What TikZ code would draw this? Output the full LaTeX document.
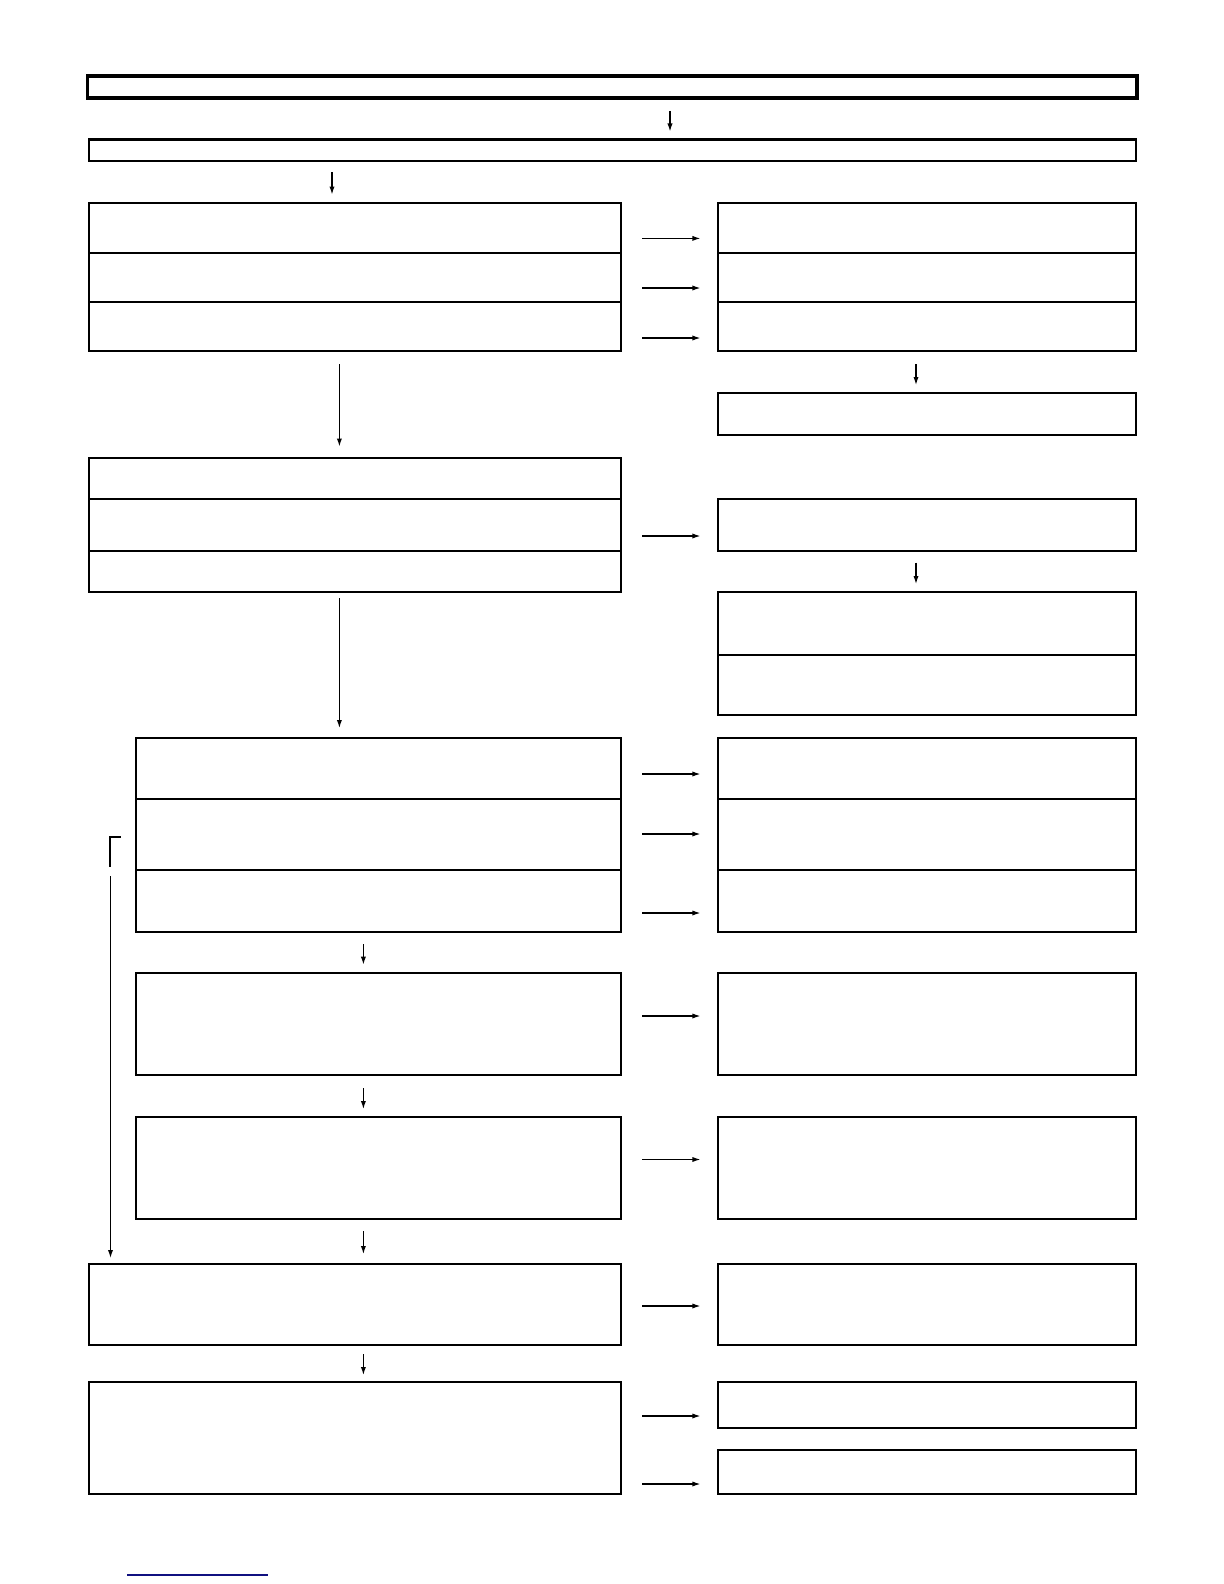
\documentclass[tikz,border=0pt]{standalone}
\usepackage{tikz}
\usetikzlibrary{fit,arrows.meta}
\definecolor{marine}{HTML}{101080}

\begin{document}
\begin{tikzpicture}[x=0.5pt,y=-0.5pt,
  boite/.style={draw,line width=1pt,inner sep=0pt,outer sep=0pt},
  fleche/.style={-{Latex[length=4pt,width=2.6pt]},line width=0.6pt},
  droite/.style={fleche,shorten <=10.6pt,shorten >=8.8pt},
  bas/.style={fleche,shorten <=6pt,shorten >=4pt}]
  \useasboundingbox (0,0) rectangle (1224,1584);

  % en-tete
  \node[
    boite,
    line width=1.75pt,
    fit={(87.7,75.8) (1137,97.9)}] (titre) {};
  \node[boite,fit={(88.5,139.5) (1136,160.8)}] (bande) {};

  % premier bloc
  \node[boite,fit={(88.5,202.5) (621,252.5)}] (l1) {};
  \node[boite,fit={(88.5,252.5) (621,302)}] (l2) {};
  \node[boite,fit={(88.5,302) (621,351)}] (l3) {};
  \node[boite,fit={(718,202.5) (1136,252.5)}] (r1) {};
  \node[boite,fit={(718,252.5) (1136,302)}] (r2) {};
  \node[boite,fit={(718,302) (1136,351)}] (r3) {};
  \node[boite,fit={(718,393) (1136,435)}] (r4) {};

  % deuxieme bloc
  \node[boite,fit={(88.5,457.5) (621,499)}] (l4) {};
  \node[boite,fit={(88.5,499) (621,550.5)}] (l5) {};
  \node[boite,fit={(88.5,550.5) (621,592)}] (l6) {};
  \node[boite,fit={(718,499) (1136,550.5)}] (r5) {};
  \node[boite,fit={(718,592) (1136,654.5)}] (r6) {};
  \node[boite,fit={(718,654.5) (1136,715)}] (r7) {};

  % troisieme bloc
  \node[boite,fit={(135.5,738) (621,799)}] (l7) {};
  \node[boite,fit={(135.5,799) (621,870)}] (l8) {};
  \node[boite,fit={(135.5,870) (621,932)}] (l9) {};
  \node[boite,fit={(718,738) (1136,799)}] (r8) {};
  \node[boite,fit={(718,799) (1136,870)}] (r9) {};
  \node[boite,fit={(718,870) (1136,932)}] (r10) {};
  \node[boite,fit={(135.5,972.6) (621,1074.6)}] (l10) {};
  \node[boite,fit={(718,972.6) (1136,1074.6)}] (r11) {};
  \node[boite,fit={(135.5,1117) (621,1219)}] (l11) {};
  \node[boite,fit={(718,1117) (1136,1219)}] (r12) {};

  % dernier bloc
  \node[boite,fit={(88.5,1264) (621,1345)}] (l12) {};
  \node[boite,fit={(718,1264) (1136,1345)}] (r13) {};
  \node[boite,fit={(88.5,1382) (621,1494)}] (l13) {};
  \node[boite,fit={(718,1382) (1136,1428)}] (r14) {};
  \node[boite,fit={(718,1450) (1136,1494)}] (r15) {};

  % fleches vers le bas
  \draw[bas,shorten <=6.5pt] (titre.south -| 670,0) -- (bande.north -| 670,0);
  \draw[bas,shorten <=5.7pt] (bande.south -| 332,0) -- (l1.north -| 332,0);
  \draw[bas,shorten <=6.5pt] (r3.south -| 916,0) -- (r4.north -| 916,0);
  \draw[bas,shorten <=6.5pt,shorten >=5.5pt] (l3.south -| 339.4,0) -- (l4.north -| 339.4,0);
  \draw[bas] (r5.south -| 916,0) -- (r6.north -| 916,0);
  \draw[bas,shorten <=3pt,shorten >=5pt] (l6.south -| 339.4,0) -- (l7.north -| 339.4,0);
  \draw[bas] (l9.south -| 363.4,0) -- (l10.north -| 363.4,0);
  \draw[bas,shorten <=6.7pt] (l10.south -| 363.4,0) -- (l11.north -| 363.4,0);
  \draw[bas,shorten >=5pt] (l11.south -| 363.4,0) -- (l12.north -| 363.4,0);
  \draw[bas,shorten <=4.5pt,shorten >=3.5pt] (l12.south -| 363.4,0) -- (l13.north -| 363.4,0);

  % fleches vers la droite
  \draw[droite] (l1.east |- 0,238.4) -- (r1.west |- 0,238.4);
  \draw[droite] (l2.east |- 0,288) -- (r2.west |- 0,288);
  \draw[droite] (l3.east |- 0,338) -- (r3.west |- 0,338);
  \draw[droite] (l5.east |- 0,536) -- (r5.west |- 0,536);
  \draw[droite] (l7.east |- 0,774) -- (r8.west |- 0,774);
  \draw[droite] (l8.east |- 0,834) -- (r9.west |- 0,834);
  \draw[droite] (l9.east |- 0,913) -- (r10.west |- 0,913);
  \draw[droite] (l10.east |- 0,1016) -- (r11.west |- 0,1016);
  \draw[droite] (l11.east |- 0,1159.5) -- (r12.west |- 0,1159.5);
  \draw[droite] (l12.east |- 0,1306) -- (r13.west |- 0,1306);
  \draw[droite] (l13.east |- 0,1416) -- (r14.west |- 0,1416);
  \draw[droite] (l13.east |- 0,1484) -- (r15.west |- 0,1484);

  % retour a gauche
  \draw[line width=1.15pt] (120.7,837) -- (109.7,837) -- (109.7,866.7);
  \coordinate (boucle) at (110.5,876);
  \draw[fleche,shorten >=3pt] (boucle) -- (boucle |- l12.north);

  \draw[marine,line width=0.7pt] (127,1575) -- (268,1575);

\end{tikzpicture}
\end{document}
